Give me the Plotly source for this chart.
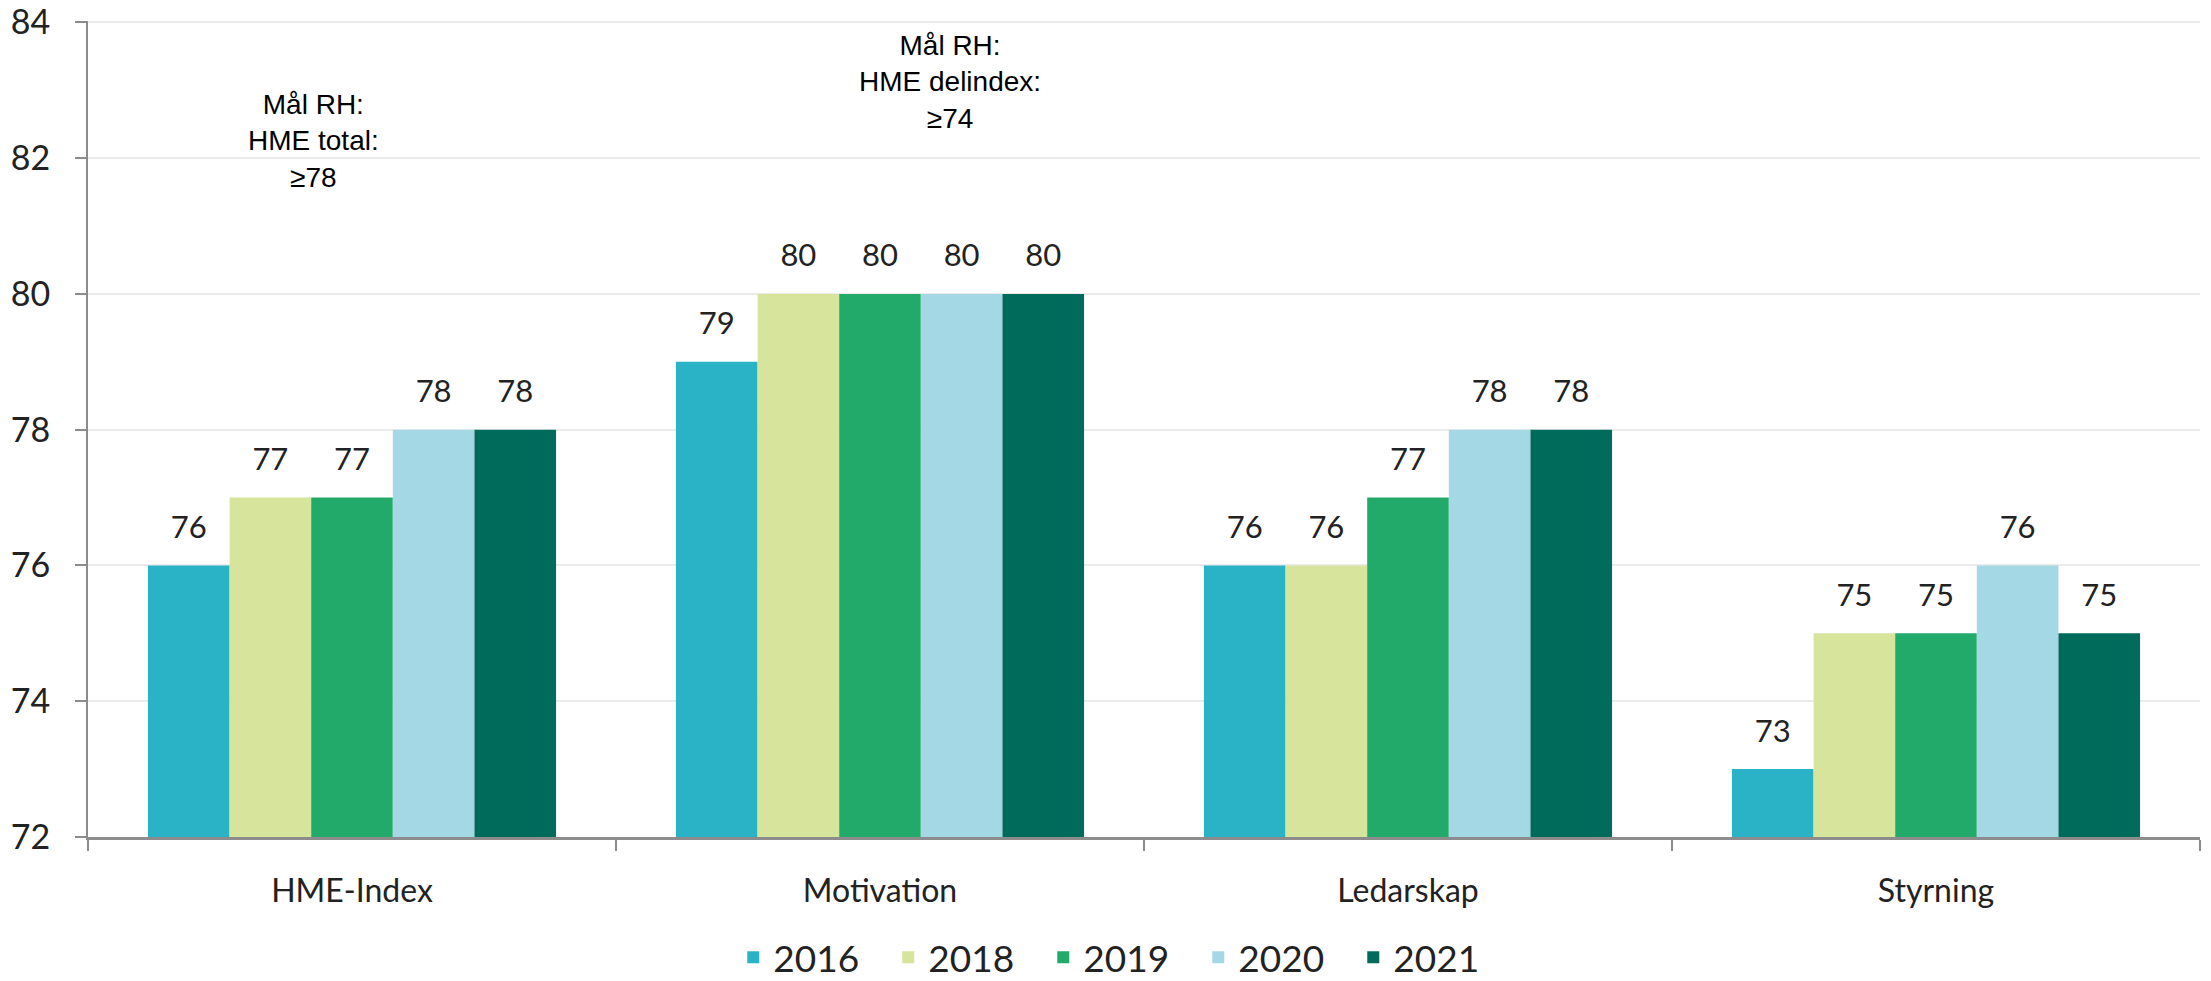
"""Grouped bar chart: HME index by area and year."""

import plotly.graph_objects as go

CATEGORIES = ["HME-Index", "Motivation", "Ledarskap", "Styrning"]
YEARS = ["2016", "2018", "2019", "2020", "2021"]
VALUES = {
    "2016": [76, 79, 76, 73],
    "2018": [77, 80, 76, 75],
    "2019": [77, 80, 77, 75],
    "2020": [78, 80, 78, 76],
    "2021": [78, 80, 78, 75],
}
COLORS = {
    "2016": "#2AB3C7",
    "2018": "#D7E49C",
    "2019": "#22AA6B",
    "2020": "#A4D8E5",
    "2021": "#006B5A",
}
Y_TICKS = [72, 74, 76, 78, 80, 82, 84]
TARGET_NOTES = [
    "Mål RH:<br>HME total:<br>≥78",
    "Mål RH:<br>HME delindex:<br>≥74",
]

LABEL_FONT = "Lato, 'Open Sans', sans-serif"
NOTE_FONT = "Liberation Sans, Arial, sans-serif"
AXIS_GREY = "#8c8c8c"
BARGAP = 0.227
PAGE_PAD = 8  # the page body offsets the figure by 8px

fig = go.Figure()

for year in YEARS:
    fig.add_trace(go.Bar(
        name=year,
        x=CATEGORIES,
        y=VALUES[year],
        marker=dict(color=COLORS[year], line=dict(width=0)),
        offsetgroup=year,
        alignmentgroup="g",
    ))

# value labels sit a bit above the bars, pushed up by an invisible marker
for year in YEARS:
    fig.add_trace(go.Scatter(
        x=CATEGORIES,
        y=VALUES[year],
        mode="markers+text",
        text=[str(v) for v in VALUES[year]],
        textposition="top center",
        textfont=dict(family=LABEL_FONT, size=31, color="#222222"),
        marker=dict(size=30, color="rgba(0,0,0,0)"),
        offsetgroup=year,
        alignmentgroup="g",
        showlegend=False,
        hoverinfo="skip",
        cliponaxis=False,
    ))

for note, nx, ny in zip(TARGET_NOTES, [0.107, 0.408], [0.853, 0.925]):
    fig.add_annotation(
        text=note, xref="paper", yref="paper", x=nx, y=ny,
        xanchor="center", yanchor="middle",
        showarrow=False, align="center",
        font=dict(family=NOTE_FONT, size=28, color="#000000"),
    )

fig.update_layout(
    width=2211 - PAGE_PAD,
    height=981 - PAGE_PAD,
    margin=dict(l=88 - PAGE_PAD, r=11, t=21 - PAGE_PAD, b=144, autoexpand=False),
    paper_bgcolor="white",
    plot_bgcolor="white",
    barmode="group",
    scattermode="group",
    bargap=BARGAP,
    bargroupgap=0,
    scattergap=BARGAP,
    font=dict(family=LABEL_FONT, color="#222222"),
    legend=dict(
        orientation="h",
        x=0.489,
        xanchor="center",
        y=-0.148,
        yanchor="middle",
        font=dict(family=LABEL_FONT, size=37, color="#222222"),
        entrywidth=110,
        itemclick=False,
        traceorder="normal",
    ),
)

fig.update_xaxes(
    type="category",
    tickson="boundaries",
    ticks="outside",
    ticklen=11,
    tickwidth=2,
    tickcolor=AXIS_GREY,
    showline=True,
    linecolor=AXIS_GREY,
    linewidth=3,
    showgrid=False,
    automargin=False,
    tickfont=dict(family=LABEL_FONT, size=32, color="#222222"),
    ticklabelstandoff=24,
)
fig.update_yaxes(
    range=[72, 84.02],
    tickmode="array",
    tickvals=Y_TICKS,
    ticks="outside",
    ticklen=11,
    tickwidth=2,
    tickcolor=AXIS_GREY,
    showline=True,
    linecolor=AXIS_GREY,
    linewidth=2,
    showgrid=True,
    gridcolor="#ebebeb",
    gridwidth=2,
    zeroline=False,
    automargin=False,
    ticklabeloverflow="allow",
    tickfont=dict(family=LABEL_FONT, size=34, color="#222222"),
    ticklabelstandoff=18,
)

fig.write_html("out.html")
